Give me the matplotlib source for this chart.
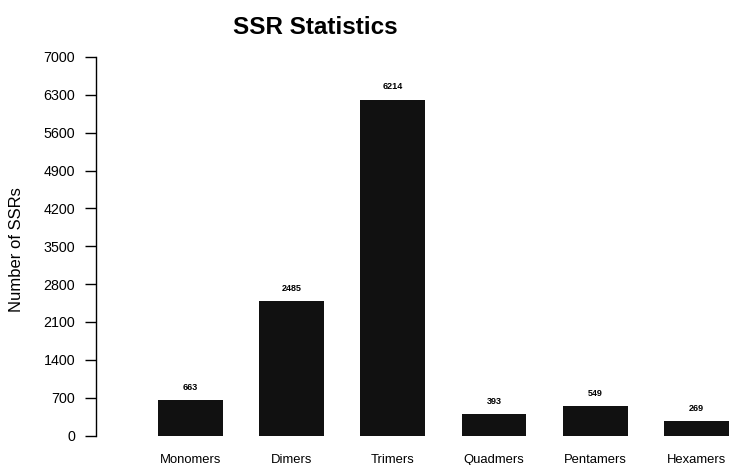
import numpy as np
import matplotlib
matplotlib.use("Agg")
import matplotlib.pyplot as plt

categories = ["Monomers", "Dimers", "Trimers", "Quadmers", "Pentamers", "Hexamers"]
counts = [663, 2485, 6214, 393, 549, 269]
yticks = [0, 700, 1400, 2100, 2800, 3500, 4200, 4900, 5600, 6300, 7000]

plt.rcParams["font.family"] = ["Liberation Sans", "DejaVu Sans"]

W, H = 736, 465
fig = plt.figure(figsize=(W / 100, H / 100), dpi=100)
# axes placed in pixel terms: y spine at x=96, zero line at y=435.5, 7000 at y=57
ax = fig.add_axes([96 / W, 29.5 / H, (W - 96) / W, 378.5 / H])

x = np.arange(len(categories))
bars = ax.bar(x, counts, width=0.64, color="#111111")
for xi, c in zip(x, counts):
    ax.text(xi, c + 150, str(c), ha="center", va="bottom", fontsize=6.5,
            fontweight="bold")

ax.set_xlim(-0.93, 5.39)
ax.set_ylim(0, 7000)
ax.set_yticks(yticks)
ax.set_yticklabels([str(t) for t in yticks], fontsize=10.3)
ax.tick_params(axis="y", length=8, width=1, pad=7)
ax.set_xticks(x)
ax.set_xticklabels(categories, fontsize=9.4)
ax.tick_params(axis="x", length=0, pad=13)

for s in ["top", "right", "bottom"]:
    ax.spines[s].set_visible(False)
ax.spines["left"].set_linewidth(1)

fig.text(315 / W, 1 - 27 / H, "SSR Statistics", ha="center", va="center",
         fontsize=17.5, fontweight="bold")
fig.text(17 / W, 1 - 250 / H, "Number of SSRs", ha="center", va="center",
         rotation=90, fontsize=12)

fig.savefig("out.png", dpi=100)
